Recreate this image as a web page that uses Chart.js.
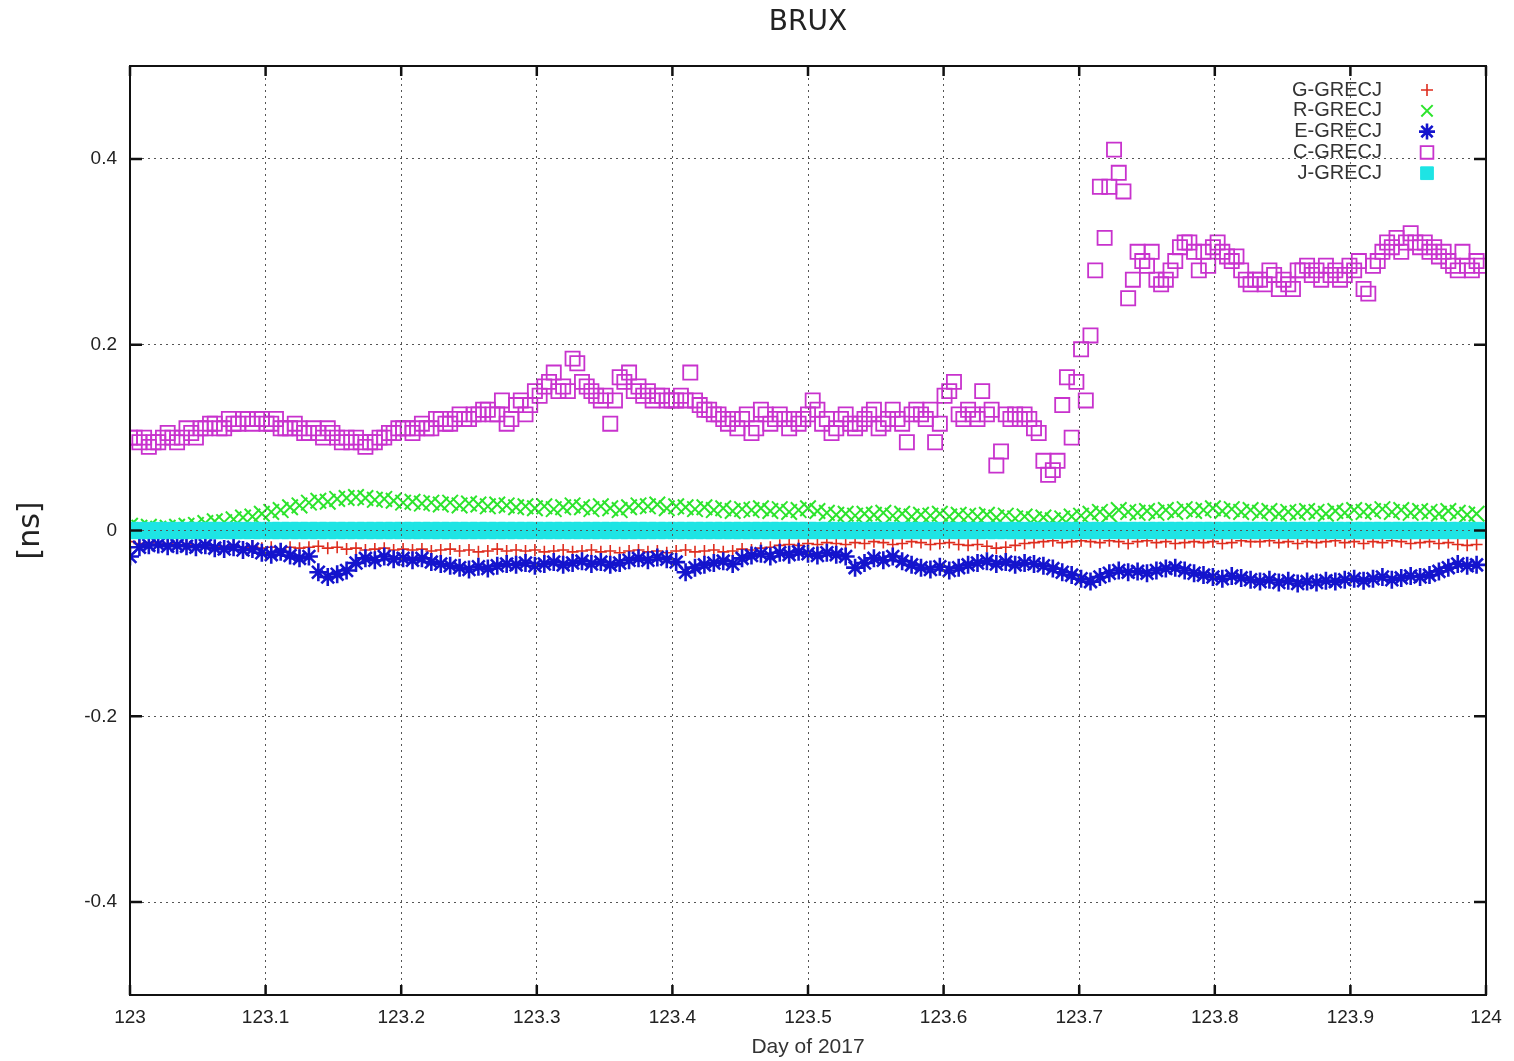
<!DOCTYPE html>
<html>
<head>
<meta charset="utf-8">
<title>BRUX</title>
<script src="https://cdn.jsdelivr.net/npm/chart.js@4.4.1/dist/chart.umd.min.js"></script>
<style>
  html, body { margin: 0; padding: 0; background: #fff; }
  #wrap { width: 1514px; height: 1061px; }
</style>
</head>
<body>
<div id="wrap"><canvas id="graph" width="1514" height="1061"></canvas></div>
<script>
// day of year 2017, one sample every 5 min (C) or 10 min (G, R, E, J)
const dayStart = 123;
const xTicks = [123, 123.1, 123.2, 123.3, 123.4, 123.5, 123.6, 123.7, 123.8, 123.9, 124];
const yTicks = [-0.4, -0.2, 0, 0.2, 0.4];

const seriesNames = ['G-GRECJ', 'R-GRECJ', 'E-GRECJ', 'C-GRECJ', 'J-GRECJ'];

// C-GRECJ [ns], 5-min epochs, one row per hour
const cValues = [
  0.10,0.10,0.095,0.10,0.09,0.095,0.095,0.10,0.105,0.10,0.095,0.10,
  0.11,0.105,0.10,0.11,0.11,0.115,0.115,0.11,0.11,0.12,0.115,0.115,
  0.12,0.12,0.115,0.12,0.12,0.115,0.115,0.12,0.11,0.11,0.11,0.115,
  0.11,0.105,0.105,0.11,0.105,0.10,0.11,0.105,0.10,0.095,0.10,0.095,
  0.10,0.095,0.09,0.095,0.095,0.10,0.10,0.105,0.105,0.11,0.11,0.11,
  0.105,0.11,0.115,0.11,0.11,0.12,0.12,0.115,0.115,0.12,0.125,0.12,
  0.12,0.125,0.125,0.13,0.13,0.125,0.125,0.14,0.115,0.12,0.135,0.14,
  0.125,0.135,0.15,0.145,0.155,0.16,0.17,0.15,0.155,0.15,0.185,0.18,
  0.16,0.155,0.15,0.145,0.14,0.145,0.115,0.14,0.165,0.16,0.17,0.15,
  0.155,0.145,0.15,0.14,0.145,0.145,0.14,0.14,0.14,0.145,0.14,0.17,
  0.14,0.135,0.13,0.13,0.125,0.125,0.12,0.115,0.12,0.11,0.12,0.125,
  0.105,0.11,0.13,0.125,0.115,0.12,0.125,0.12,0.11,0.12,0.115,0.12,
  0.125,0.14,0.13,0.115,0.12,0.105,0.11,0.12,0.125,0.115,0.11,0.115,
  0.12,0.125,0.13,0.11,0.115,0.12,0.13,0.12,0.115,0.095,0.125,0.13,
  0.125,0.12,0.13,0.095,0.115,0.145,0.15,0.16,0.125,0.12,0.13,0.125,
  0.12,0.15,0.125,0.13,0.07,0.085,0.125,0.12,0.125,0.12,0.125,0.12,
  0.11,0.105,0.075,0.06,0.065,0.075,0.135,0.165,0.10,0.16,0.195,0.14,
  0.21,0.28,0.37,0.315,0.37,0.41,0.385,0.365,0.25,0.27,0.30,0.29,
  0.285,0.30,0.27,0.265,0.27,0.28,0.29,0.305,0.31,0.31,0.30,0.28,
  0.30,0.285,0.305,0.31,0.30,0.295,0.29,0.295,0.28,0.27,0.265,0.27,
  0.27,0.265,0.28,0.275,0.26,0.27,0.265,0.26,0.28,0.28,0.285,0.275,
  0.28,0.27,0.285,0.275,0.28,0.27,0.275,0.285,0.28,0.29,0.26,0.255,
  0.285,0.29,0.30,0.31,0.305,0.315,0.30,0.31,0.32,0.31,0.305,0.31,
  0.30,0.305,0.295,0.30,0.29,0.285,0.28,0.30,0.285,0.28,0.29,0.285
];

// G-GRECJ [ns], 10-min epochs, one row per hour
const gValues = [
  -0.012,-0.014,-0.013,-0.015,-0.014,-0.016,
  -0.015,-0.017,-0.016,-0.018,-0.017,-0.016,
  -0.018,-0.017,-0.019,-0.018,-0.020,-0.018,
  -0.019,-0.018,-0.017,-0.019,-0.018,-0.020,
  -0.019,-0.021,-0.020,-0.019,-0.021,-0.020,
  -0.021,-0.020,-0.022,-0.021,-0.020,-0.022,
  -0.021,-0.023,-0.022,-0.020,-0.022,-0.021,
  -0.022,-0.021,-0.023,-0.022,-0.021,-0.023,
  -0.022,-0.021,-0.023,-0.022,-0.024,-0.022,
  -0.021,-0.023,-0.022,-0.024,-0.022,-0.021,
  -0.023,-0.022,-0.021,-0.023,-0.022,-0.020,
  -0.021,-0.019,-0.018,-0.016,-0.015,-0.016,
  -0.014,-0.015,-0.013,-0.014,-0.015,-0.013,
  -0.014,-0.012,-0.013,-0.015,-0.014,-0.012,
  -0.013,-0.015,-0.014,-0.013,-0.015,-0.016,
  -0.015,-0.017,-0.019,-0.018,-0.016,-0.014,
  -0.013,-0.012,-0.011,-0.013,-0.012,-0.011,
  -0.012,-0.013,-0.011,-0.012,-0.014,-0.012,
  -0.011,-0.013,-0.012,-0.014,-0.013,-0.012,
  -0.013,-0.012,-0.014,-0.013,-0.011,-0.012,
  -0.012,-0.011,-0.013,-0.012,-0.014,-0.012,
  -0.013,-0.012,-0.011,-0.013,-0.012,-0.014,
  -0.012,-0.013,-0.011,-0.012,-0.014,-0.013,
  -0.012,-0.014,-0.013,-0.015,-0.016,-0.015
];

// R-GRECJ [ns]
const rValues = [
  0.005,0.003,0.004,0.002,0.003,0.004,
  0.005,0.006,0.008,0.010,0.009,0.012,
  0.014,0.015,0.018,0.020,0.022,0.025,
  0.027,0.030,0.032,0.031,0.034,0.035,
  0.036,0.035,0.033,0.034,0.032,0.030,
  0.031,0.029,0.030,0.028,0.030,0.027,
  0.029,0.028,0.026,0.028,0.027,0.025,
  0.026,0.024,0.026,0.023,0.025,0.027,
  0.025,0.023,0.026,0.024,0.022,0.025,
  0.027,0.026,0.028,0.024,0.026,0.025,
  0.023,0.025,0.022,0.024,0.021,0.023,
  0.022,0.024,0.021,0.023,0.020,0.022,
  0.024,0.021,0.019,0.017,0.018,0.016,
  0.018,0.017,0.019,0.016,0.018,0.015,
  0.017,0.016,0.018,0.015,0.017,0.016,
  0.015,0.017,0.014,0.016,0.013,0.015,
  0.012,0.014,0.011,0.013,0.015,0.016,
  0.018,0.020,0.017,0.022,0.020,0.019,
  0.021,0.019,0.022,0.020,0.023,0.021,
  0.022,0.024,0.021,0.023,0.020,0.022,
  0.019,0.021,0.018,0.020,0.019,0.021,
  0.020,0.018,0.021,0.019,0.022,0.020,
  0.021,0.023,0.020,0.022,0.019,0.021,
  0.020,0.018,0.021,0.019,0.017,0.018
];

// E-GRECJ [ns]
const eValues = [
  -0.028,-0.018,-0.016,-0.015,-0.017,-0.016,
  -0.017,-0.018,-0.016,-0.019,-0.020,-0.018,
  -0.021,-0.020,-0.024,-0.026,-0.023,-0.027,
  -0.030,-0.028,-0.045,-0.050,-0.047,-0.043,
  -0.035,-0.030,-0.032,-0.028,-0.031,-0.030,
  -0.032,-0.030,-0.034,-0.036,-0.038,-0.040,
  -0.042,-0.039,-0.041,-0.038,-0.036,-0.037,
  -0.035,-0.038,-0.036,-0.034,-0.037,-0.035,
  -0.033,-0.036,-0.034,-0.037,-0.035,-0.032,
  -0.030,-0.032,-0.029,-0.031,-0.034,-0.045,
  -0.040,-0.037,-0.035,-0.033,-0.036,-0.030,
  -0.027,-0.025,-0.028,-0.024,-0.026,-0.023,
  -0.025,-0.027,-0.024,-0.026,-0.028,-0.040,
  -0.035,-0.030,-0.032,-0.028,-0.033,-0.037,
  -0.040,-0.042,-0.039,-0.043,-0.040,-0.037,
  -0.035,-0.033,-0.036,-0.034,-0.037,-0.035,
  -0.036,-0.038,-0.041,-0.045,-0.048,-0.052,
  -0.055,-0.050,-0.046,-0.043,-0.045,-0.044,
  -0.046,-0.043,-0.041,-0.040,-0.043,-0.046,
  -0.048,-0.050,-0.052,-0.049,-0.051,-0.053,
  -0.055,-0.053,-0.056,-0.054,-0.057,-0.055,
  -0.056,-0.054,-0.055,-0.053,-0.052,-0.054,
  -0.052,-0.050,-0.053,-0.051,-0.049,-0.050,
  -0.048,-0.044,-0.040,-0.036,-0.038,-0.037
];

// J-GRECJ [ns] (reference system, flat)
const jValues = [
  0,0,0,0,0,0, 0,0,0,0,0,0, 0,0,0,0,0,0, 0,0,0,0,0,0,
  0,0,0,0,0,0, 0,0,0,0,0,0, 0,0,0,0,0,0, 0,0,0,0,0,0,
  0,0,0,0,0,0, 0,0,0,0,0,0, 0,0,0,0,0,0, 0,0,0,0,0,0,
  0,0,0,0,0,0, 0,0,0,0,0,0, 0,0,0,0,0,0, 0,0,0,0,0,0,
  0,0,0,0,0,0, 0,0,0,0,0,0, 0,0,0,0,0,0, 0,0,0,0,0,0,
  0,0,0,0,0,0, 0,0,0,0,0,0, 0,0,0,0,0,0, 0,0,0,0,0,0
];

// values -> {x, y} on the epoch grid
const toPoints = (vals, perDay) => vals.map((v, i) => ({ x: dayStart + i / perDay, y: v }));

const datasets = [
  { label: seriesNames[0], data: toPoints(gValues, 144), pointStyle: 'cross',
    pointRadius: 6, borderColor: 'rgb(222,45,30)', backgroundColor: 'rgb(222,45,30)', pointBorderWidth: 1.6, order: 5 },
  { label: seriesNames[1], data: toPoints(rValues, 144), pointStyle: 'crossRot',
    pointRadius: 11, borderColor: 'rgb(45,228,45)', backgroundColor: 'rgb(45,228,45)', pointBorderWidth: 2, order: 4 },
  { label: seriesNames[2], data: toPoints(eValues, 144), pointStyle: 'star',
    pointRadius: 9, borderColor: 'rgb(20,20,205)', backgroundColor: 'rgb(20,20,205)', pointBorderWidth: 2.6, order: 3 },
  { label: seriesNames[3], data: toPoints(cValues, 288), pointStyle: 'rect',
    pointRadius: 10, borderColor: 'rgb(200,50,205)', backgroundColor: 'rgba(0,0,0,0)', pointBorderWidth: 1.8, order: 2 },
  { label: seriesNames[4], data: toPoints(jValues, 144), pointStyle: 'rect',
    pointRadius: 11.5, borderColor: 'rgb(30,228,228)', backgroundColor: 'rgb(30,228,228)', pointBorderWidth: 1, order: 1 }
];

const tickFont = { family: '"Liberation Sans", Arial, sans-serif', size: 19 };

// gnuplot style frame with inward tick marks
const framePlugin = {
  id: 'frame',
  afterDraw(chart) {
    const { ctx, chartArea: a, scales } = chart;
    ctx.save();
    ctx.strokeStyle = '#111';
    ctx.lineWidth = 2;
    ctx.strokeRect(a.left, a.top, a.right - a.left, a.bottom - a.top);
    ctx.lineWidth = 2.5;
    ctx.beginPath();
    xTicks.forEach(v => {
      const px = scales.x.getPixelForValue(v);
      ctx.moveTo(px, a.bottom); ctx.lineTo(px, a.bottom - 10);
      ctx.moveTo(px, a.top); ctx.lineTo(px, a.top + 10);
    });
    yTicks.forEach(v => {
      const py = scales.y.getPixelForValue(v);
      ctx.moveTo(a.left, py); ctx.lineTo(a.left + 12, py);
      ctx.moveTo(a.right, py); ctx.lineTo(a.right - 12, py);
    });
    ctx.stroke();
    ctx.restore();
  }
};

// key in the upper right corner: text right aligned, symbol on the right
const keyPlugin = {
  id: 'key',
  afterDraw(chart) {
    const { ctx, chartArea: a } = chart;
    const textRight = a.right - 104;
    const symX = a.right - 59;
    const top = a.top + 24;
    const step = 20.8;
    ctx.save();
    ctx.font = '20px "Liberation Sans", Arial, sans-serif';
    ctx.textAlign = 'right';
    ctx.textBaseline = 'middle';
    chart.data.datasets.forEach((ds, i) => {
      const y = top + i * step;
      ctx.fillStyle = '#333';
      ctx.fillText(ds.label, textRight, y);
      ctx.strokeStyle = ds.borderColor;
      ctx.fillStyle = ds.backgroundColor;
      ctx.lineWidth = ds.pointBorderWidth;
      const r = ds.pointStyle === 'rect' ? 9 : (ds.pointStyle === 'cross' ? 6 : 8);
      Chart.helpers.drawPoint(ctx, { pointStyle: ds.pointStyle, radius: r, rotation: 0, borderWidth: ds.pointBorderWidth }, symX, y);
    });
    ctx.restore();
  }
};

const ctx = document.getElementById('graph').getContext('2d');
new Chart(ctx, {
  type: 'scatter',
  data: { datasets },
  plugins: [framePlugin, keyPlugin],
  options: {
    responsive: false,
    devicePixelRatio: 1,
    animation: false,
    layout: { padding: { left: 0, right: 28, top: 0, bottom: 0 } },
    plugins: {
      legend: { display: false },
      tooltip: { enabled: false },
      title: {
        display: true,
        fullSize: false,
        text: 'BRUX',
        color: '#222',
        font: { family: '"DejaVu Sans", sans-serif', size: 28, weight: 'normal' },
        padding: { top: 6, bottom: 26.4 }
      }
    },
    scales: {
      x: {
        type: 'linear',
        min: 123, max: 124,
        afterBuildTicks: s => { s.ticks = xTicks.map(v => ({ value: v })); },
        afterFit: s => { s.height = 66; },
        grid: { color: '#555', lineWidth: 1, drawTicks: false, z: 1 },
        border: { display: false, dash: [2, 4] },
        ticks: {
          color: '#222', font: tickFont, padding: 11, autoSkip: false, maxRotation: 0,
          callback: v => String(Math.round(v * 10) / 10)
        },
        title: {
          display: true, text: 'Day of 2017', color: '#333',
          font: { family: '"Liberation Sans", Arial, sans-serif', size: 21 },
          padding: { top: 0, bottom: 1 }
        }
      },
      y: {
        type: 'linear',
        min: -0.5, max: 0.5,
        afterBuildTicks: s => { s.ticks = yTicks.map(v => ({ value: v })); },
        afterFit: s => { s.width = 130; },
        grid: { color: '#555', lineWidth: 1, drawTicks: false, z: 1 },
        border: { display: false, dash: [2, 4] },
        ticks: {
          color: '#222', font: tickFont, padding: 13,
          callback: v => String(Math.round(v * 10) / 10)
        },
        title: {
          display: true, text: '[ns]', color: '#222',
          font: { family: '"DejaVu Sans", sans-serif', size: 30 },
          padding: { top: 13, bottom: 0 }
        }
      }
    }
  }
});
</script>
</body>
</html>
